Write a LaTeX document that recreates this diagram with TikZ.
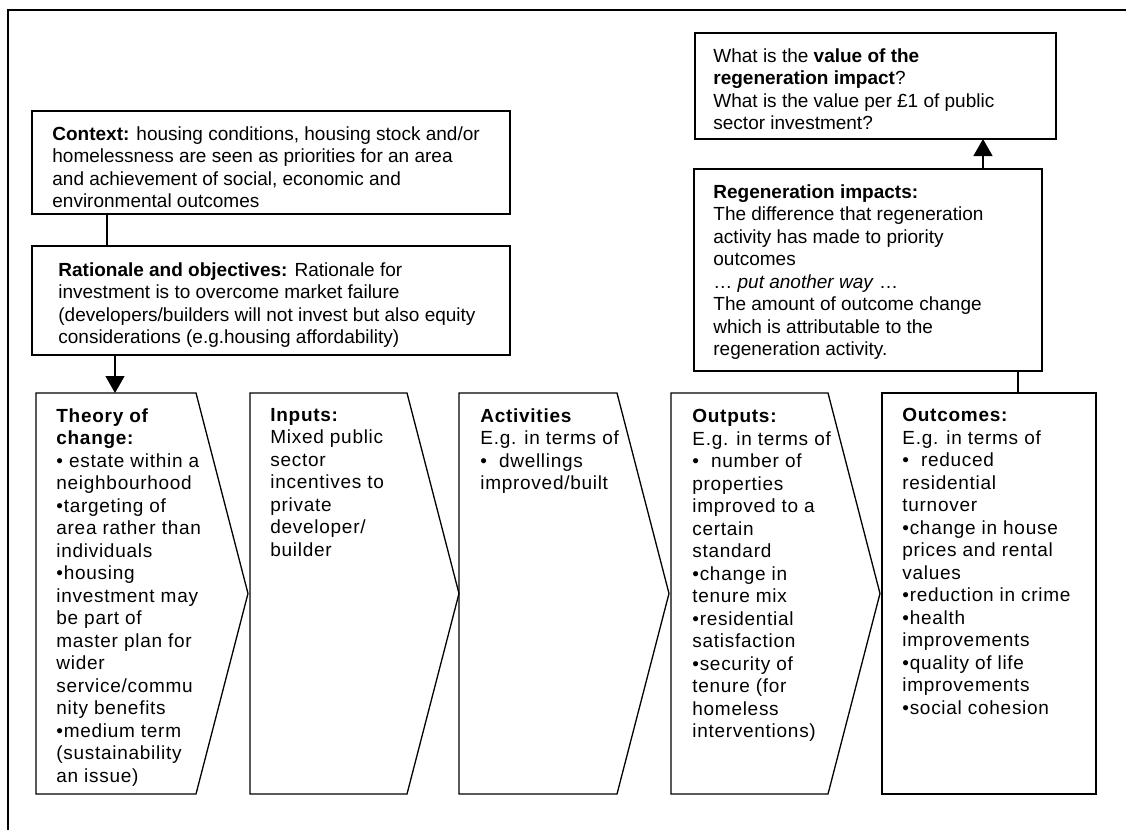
\documentclass[tikz,border=0pt]{standalone}
\usepackage{fontspec}
\setmainfont{Liberation Sans}
\newfontfamily\spacedfont[LetterSpace=3.8]{Liberation Sans}
\usetikzlibrary{fit,arrows.meta}
\newcommand{\chevron}[1]{%
  \draw[boxline] (#1.north west) -- ([xshift=-26pt]#1.north east)
    -- (#1.east) -- ([xshift=-26pt]#1.south east) -- (#1.south west) -- cycle;}
\begin{document}
\begin{tikzpicture}[x=0.5pt,y=-0.5pt,
    boxline/.style={line width=0.65pt},
    area/.style={inner sep=0pt,outer sep=0pt},
    box/.style={area,draw,boxline},
    txt/.style={anchor=north west,align=left,inner sep=0pt,
      font=\fontsize{9.5}{11.25}\selectfont},
    steptxt/.style={txt,font=\spacedfont\fontsize{9.5}{11.25}\selectfont},
    arr/.style={boxline,-{Triangle[width=9.5pt,length=8.5pt]}}]
  \useasboundingbox (0,0) rectangle (1126,830);
  % frame
  \draw[boxline] (8,840) -- (8,10) -- (1140,10);
  % boxes on the left
  \node[box,fit={(32,111) (510,214)}] (context) {};
  \node[box,fit={(32,246) (510,355)}] (rationale) {};
  \node[txt] (contexttext) at ([shift={(20,15)}]context.north west)
    {\textbf{Context:} housing conditions, housing stock and/or\\
     homelessness are seen as priorities for an area\\
     and achievement of social, economic and\\
     environmental outcomes};
  \node[txt] (rationaletext) at ([shift={(26,16)}]rationale.north west)
    {\textbf{Rationale and objectives:} Rationale for\\
     investment is to overcome market failure\\
     (developers/builders will not invest but also equity\\
     considerations (e.g.housing affordability)};
  % boxes on the right
  \node[box,fit={(695,33) (1056,139)}] (value) {};
  \node[box,fit={(694,169) (1042,371)}] (impacts) {};
  \node[txt] (valuetext) at ([shift={(18,15)}]value.north west)
    {What is the \textbf{value of the}\\
     \textbf{regeneration impact}?\\
     What is the value per £1 of public\\
     sector investment?};
  \node[txt] (impactstext) at ([shift={(19,15)}]impacts.north west)
    {\textbf{Regeneration impacts:}\\
     The difference that regeneration\\
     activity has made to priority\\
     outcomes\\
     … \textit{put another way} …\\
     The amount of outcome change\\
     which is attributable to the\\
     regeneration activity.};
  % the chain
  \node[area,fit={(36,393) (248,794)}] (theory) {};
  \node[area,fit={(250,393) (459,794)}] (inputs) {};
  \node[area,fit={(459,393) (669,794)}] (activities) {};
  \node[area,fit={(671,393) (880,794)}] (outputs) {};
  \node[box,fit={(882,393) (1096,794)}] (outcomes) {};
  \chevron{theory}
  \chevron{inputs}
  \chevron{activities}
  \chevron{outputs}
  \node[steptxt] (theorytext) at ([shift={(20,15)}]theory.north west)
    {\textbf{Theory of}\\
     \textbf{change:}\\
     • estate within a\\
     neighbourhood\\
     •targeting of\\
     area rather than\\
     individuals\\
     •housing\\
     investment may\\
     be part of\\
     master plan for\\
     wider\\
     service/commu\\
     nity benefits\\
     •medium term\\
     (sustainability\\
     an issue)};
  \node[steptxt] (inputstext) at ([shift={(20,15)}]inputs.north west)
    {\textbf{Inputs:}\\
     Mixed public\\
     sector\\
     incentives to\\
     private\\
     developer/\\
     builder};
  \node[steptxt] (activitiestext) at ([shift={(21,15)}]activities.north west)
    {\textbf{Activities}\\
     E.g. in terms of\\
     •\hspace{6pt}dwellings\\
     improved/built};
  \node[steptxt] (outputstext) at ([shift={(21,16)}]outputs.north west)
    {\textbf{Outputs:}\\
     E.g. in terms of\\
     •\hspace{6pt}number of\\
     properties\\
     improved to a\\
     certain\\
     standard\\
     •change in\\
     tenure mix\\
     •residential\\
     satisfaction\\
     •security of\\
     tenure (for\\
     homeless\\
     interventions)};
  \node[steptxt] (outcomestext) at ([shift={(20,15)}]outcomes.north west)
    {\textbf{Outcomes:}\\
     E.g. in terms of\\
     •\hspace{6pt}reduced\\
     residential\\
     turnover\\
     •change in house\\
     prices and rental\\
     values\\
     •reduction in crime\\
     •health\\
     improvements\\
     •quality of life\\
     improvements\\
     •social cohesion};
  % connectors
  \draw[boxline] ([xshift=37.5pt]context.south west)
    -- ([xshift=37.5pt]rationale.north west);
  \draw[arr] ([xshift=41.5pt]rationale.south west)
    -- ([xshift=39.5pt]theory.north west);
  \draw[boxline] ([xshift=162pt]impacts.south west)
    -- ([xshift=68pt]outcomes.north west);
  \draw[arr] ([xshift=144.5pt]impacts.north west)
    -- ([xshift=144pt]value.south west);
\end{tikzpicture}
\end{document}
